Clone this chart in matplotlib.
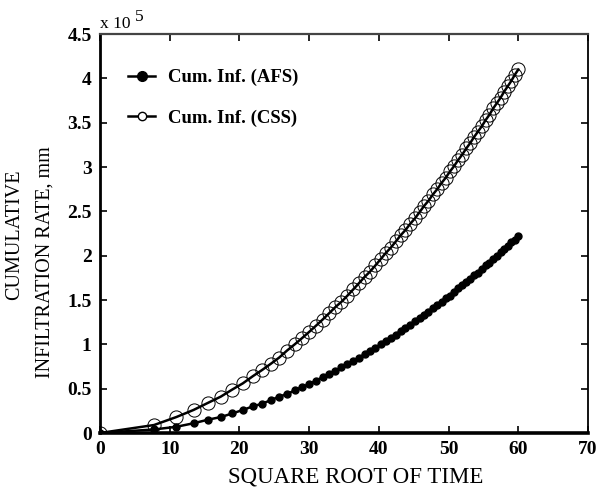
import matplotlib
matplotlib.use("Agg")
import matplotlib.pyplot as plt
from matplotlib.lines import Line2D

# square root of time (x)
sqrt_time = [0, 7.75, 10.95, 13.42, 15.49, 17.32, 18.97, 20.49, 21.91, 23.24,
             24.49, 25.69, 26.83, 27.93, 28.98, 30.00, 30.98, 31.94, 32.86, 33.76,
             34.64, 35.50, 36.33, 37.15, 37.95, 38.73, 39.50, 40.25, 40.99, 41.71,
             42.43, 43.13, 43.82, 44.50, 45.17, 45.83, 46.48, 47.12, 47.75, 48.37,
             48.99, 49.60, 50.20, 50.79, 51.38, 51.96, 52.54, 53.10, 53.67, 54.22,
             54.77, 55.32, 55.86, 56.39, 56.92, 57.45, 57.97, 58.48, 58.99, 59.50,
             60.00]

# cumulative infiltration, x 1e5 mm
cum_afs = [0, 0.04, 0.07, 0.11, 0.15, 0.18, 0.22, 0.26, 0.30, 0.33,
           0.37, 0.41, 0.44, 0.48, 0.52, 0.55, 0.59, 0.63, 0.67, 0.70,
           0.74, 0.78, 0.81, 0.85, 0.89, 0.92, 0.96, 1.00, 1.04, 1.07,
           1.11, 1.15, 1.18, 1.22, 1.26, 1.30, 1.33, 1.37, 1.41, 1.44,
           1.48, 1.52, 1.55, 1.59, 1.63, 1.67, 1.70, 1.74, 1.78, 1.81,
           1.85, 1.89, 1.92, 1.96, 2.00, 2.04, 2.07, 2.11, 2.15, 2.18,
           2.22]

cum_css = [0, 0.09, 0.18, 0.26, 0.34, 0.41, 0.49, 0.56, 0.64, 0.71,
           0.78, 0.85, 0.93, 1.00, 1.07, 1.14, 1.21, 1.28, 1.35, 1.42,
           1.48, 1.55, 1.62, 1.69, 1.76, 1.82, 1.89, 1.96, 2.03, 2.09,
           2.16, 2.23, 2.29, 2.36, 2.42, 2.49, 2.56, 2.62, 2.69, 2.75,
           2.82, 2.88, 2.95, 3.01, 3.08, 3.14, 3.21, 3.27, 3.34, 3.40,
           3.46, 3.53, 3.59, 3.66, 3.72, 3.78, 3.85, 3.91, 3.97, 4.04,
           4.10]

x_ticks = [0, 10, 20, 30, 40, 50, 60, 70]
y_ticks = [0, 0.5, 1, 1.5, 2, 2.5, 3, 3.5, 4, 4.5]
y_tick_labels = ["0", "0.5", "1", "1.5", "2", "2.5", "3", "3.5", "4", "4.5"]

serif = "Liberation Serif"

fig = plt.figure(figsize=(5.98, 4.93), dpi=100)
ax = fig.add_axes([0.1672, 0.1217, 0.8161, 0.8093])

ax.plot(sqrt_time, cum_afs, color="black", linewidth=1.8,
        marker="o", markersize=5, markerfacecolor="black",
        markeredgecolor="black")
ax.plot(sqrt_time, cum_css, color="black", linewidth=1.8,
        marker="o", markersize=9.5, markerfacecolor="none",
        markeredgecolor="black", markeredgewidth=0.7)

ax.set_xlim(0, 70)
ax.set_ylim(0, 4.5)
ax.set_xticks(x_ticks)
ax.set_yticks(y_ticks)
ax.set_yticklabels(y_tick_labels)

ax.tick_params(direction="in", length=5, width=1.2, top=True, right=True,
               pad=6)
for lab in ax.get_xticklabels() + ax.get_yticklabels():
    lab.set_fontfamily(serif)
    lab.set_fontweight("bold")
    lab.set_fontsize(14)

ax.spines["bottom"].set_linewidth(2.6)
ax.spines["left"].set_linewidth(2.0)
ax.spines["top"].set_linewidth(1.6)
ax.spines["top"].set_color("#444444")
ax.spines["right"].set_linewidth(1.3)

# x label, slightly right of centre as in the original
fig.text(356 / 598, 1 - 477 / 493, "SQUARE ROOT OF TIME", fontfamily=serif,
         fontsize=16.5, ha="center", va="center")

# two-line y label, each line placed on its own
fig.text(15 / 598, 1 - 235 / 493, "CUMULATIVE", fontfamily=serif,
         fontsize=14.5, rotation=90, ha="center", va="center")
fig.text(45 / 598, 1 - 262 / 493, "INFILTRATION RATE, mm", fontfamily=serif,
         fontsize=14.5, rotation=90, ha="center", va="center")

# axis multiplier
fig.text(100 / 598, 1 - 28 / 493, "x 10", fontfamily=serif,
         fontsize=12.5, ha="left", va="baseline")
fig.text(135 / 598, 1 - 21 / 493, "5", fontfamily=serif,
         fontsize=12.5, ha="left", va="baseline")

handles = [
    Line2D([], [], color="black", linewidth=1.8, marker="o", markersize=7,
           markerfacecolor="black", markeredgecolor="black"),
    Line2D([], [], color="black", linewidth=1.8, marker="o", markersize=6,
           markerfacecolor="white", markeredgecolor="black",
           markeredgewidth=1.0),
]
labels = ["Cum. Inf. (AFS)", "Cum. Inf. (CSS)"]
ax.legend(handles, labels, loc="upper left",
          bbox_to_anchor=((128 - 100) / 488, (433 - 69) / 399),
          frameon=False, borderpad=0, borderaxespad=0,
          prop={"family": serif, "weight": "bold", "size": 13.5},
          handlelength=1.45, handletextpad=0.7, labelspacing=1.25)

fig.savefig("out.png", dpi=100)
plt.close(fig)
